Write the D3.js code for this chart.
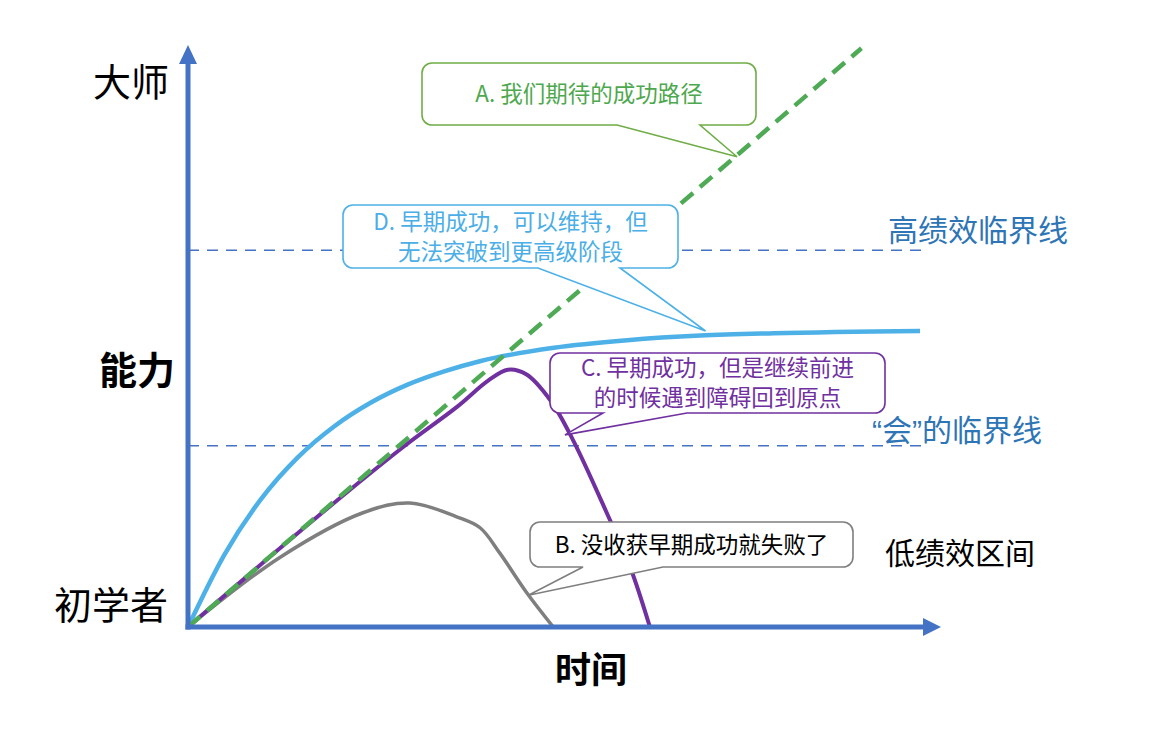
<!DOCTYPE html>
<html>
<head>
<meta charset="utf-8">
<script src="https://cdn.jsdelivr.net/npm/d3@7"></script>
<style>
  body { margin: 0; background: #fff; }
  svg { display: block; font-family: "Noto Sans CJK SC", "Noto Sans", sans-serif; }
</style>
</head>
<body>
<svg id="chart" width="1156" height="734"></svg>
<script>
// data (time, ability) in abstract units 0..10
const pathA = [[0, 0], [9.2, 10.03]]; // expected path (dashed)
const pathD = [[0, 0], [0.5, 1.26], [1, 2.22], [1.5, 2.94], [2, 3.48], [2.5, 3.89], [3, 4.2],
  [3.5, 4.43], [4, 4.61], [5, 4.84], [6, 4.97], [7, 5.05], [8, 5.09], [10, 5.13]];
const pathC = [[0, 0], [1.71, 1.85], [2.94, 3.12], [3.67, 3.81], [4.1, 4.27], [4.37, 4.46],
  [4.62, 4.38], [4.95, 3.93], [5.26, 3.24], [5.72, 1.98], [6.04, 1.04], [6.31, 0]];
const pathB = [[0, 0], [1.26, 1.21], [2.39, 1.98], [3.03, 2.15], [3.67, 1.91], [3.99, 1.72],
  [4.26, 1.28], [4.63, 0.59], [4.99, 0]];
const thresholds = [6.53, 3.14];
const thresholdLabels = [["高绩效临界线"], ["“", "会", "”", "的临界线"]];
const yLabels = ["大师", "能力", "初学者"];
const xLabel = "时间";
const zoneLabel = "低绩效区间";

const svg = d3.select("#chart");
const x = d3.scaleLinear().domain([0, 10]).range([188, 920]);
const y = d3.scaleLinear().domain([0, 10]).range([627, 50]);

const AXIS = "#4472C4";

// threshold dashed lines
svg.selectAll(".thr")
  .data(thresholds)
  .join("line")
  .attr("x1", x(0)).attr("x2", 922)
  .attr("y1", d => y(d)).attr("y2", d => y(d))
  .attr("stroke", AXIS)
  .attr("stroke-width", 1.5)
  .attr("stroke-dasharray", "11 8");

const line = d3.line().x(d => x(d[0])).y(d => y(d[1]));
const smooth = d3.line().x(d => x(d[0])).y(d => y(d[1])).curve(d3.curveMonotoneX);
const rounded = d3.line().x(d => x(d[0])).y(d => y(d[1])).curve(d3.curveCatmullRom.alpha(0.5));

// curves
svg.append("path").attr("d", rounded(pathB)).attr("fill", "none")
  .attr("stroke", "#7F7F7F").attr("stroke-width", 3.5);
svg.append("path").attr("d", rounded(pathC)).attr("fill", "none")
  .attr("stroke", "#7030A0").attr("stroke-width", 4);
svg.append("path").attr("d", smooth(pathD)).attr("fill", "none")
  .attr("stroke", "#4DB1E8").attr("stroke-width", 4.5);
svg.append("path").attr("d", line(pathA)).attr("fill", "none")
  .attr("stroke", "#4EAA55").attr("stroke-width", 4.5)
  .attr("stroke-dasharray", "16 9");

// callouts (on top of the curves)
const callouts = [
  { lines: ["A. 我们期待的成功路径"], box: [422, 63, 756, 125], base: [617, 700], tip: [7.5, 8.15],
    stroke: "#70AD47", color: "#4EA84E" },
  { lines: ["D. 早期成功，可以维持，但", "无法突破到更高级阶段"], box: [343, 205, 678, 268], base: [538, 620], tip: [7.07, 5.13],
    stroke: "#4DB1E8", color: "#4BAEE6" },
  { lines: ["C. 早期成功，但是继续前进", "的时候遇到障碍回到原点"], box: [550, 353, 885, 413], base: [603, 687], tip: [5.15, 3.33],
    stroke: "#7030A0", color: "#7030A0" },
  { lines: ["B. 没收获早期成功就失败了"], box: [530, 522, 853, 567], base: [583, 663], tip: [4.65, 0.55],
    stroke: "#7F7F7F", color: "#000000" }
];

callouts.forEach(c => {
  const [x0, y0, x1, y1] = c.box;
  const tx = x(c.tip[0]), ty = y(c.tip[1]);
  const r = 10;
  // rounded box with tail on bottom edge
  const p = d3.path();
  p.moveTo(x0 + r, y0);
  p.lineTo(x1 - r, y0);
  p.arcTo(x1, y0, x1, y0 + r, r);
  p.lineTo(x1, y1 - r);
  p.arcTo(x1, y1, x1 - r, y1, r);
  p.lineTo(c.base[1], y1);
  p.lineTo(tx, ty);
  p.lineTo(c.base[0], y1);
  p.lineTo(x0 + r, y1);
  p.arcTo(x0, y1, x0, y1 - r, r);
  p.lineTo(x0, y0 + r);
  p.arcTo(x0, y0, x0 + r, y0, r);
  p.closePath();
  svg.append("path").attr("d", p.toString())
    .attr("fill", "#fff").attr("stroke", c.stroke).attr("stroke-width", 1.6)
    .attr("stroke-linejoin", "miter");
  const cx = (x0 + x1) / 2, cy = (y0 + y1) / 2;
  const lh = 30;
  // one text element per callout, lines as tspans
  svg.append("text")
    .attr("text-anchor", "middle")
    .attr("font-size", 22.5)
    .attr("fill", c.color)
    .selectAll("tspan")
    .data(c.lines)
    .join("tspan")
    .attr("x", cx)
    .attr("y", (d, i) => cy + (i - (c.lines.length - 1) / 2) * lh)
    .attr("dy", "0.36em")
    .text(d => d);
});

// axes with arrows
svg.append("line").attr("x1", x(0)).attr("x2", x(0)).attr("y1", y(0) + 2.5).attr("y2", 60)
  .attr("stroke", AXIS).attr("stroke-width", 5);
svg.append("path").attr("d", `M179,64 L188,45 L197,64 Z`).attr("fill", AXIS);
svg.append("line").attr("x1", x(0) - 2.5).attr("x2", 926).attr("y1", y(0)).attr("y2", y(0))
  .attr("stroke", AXIS).attr("stroke-width", 5);
svg.append("path").attr("d", `M923,618 L941,627 L923,636 Z`).attr("fill", AXIS);

// axis labels
const yLabelPos = [[169, 82, "normal"], [175, 370, "bold"], [168, 605, "normal"]];
svg.selectAll(".ylab")
  .data(yLabels)
  .join("text")
  .attr("x", (d, i) => yLabelPos[i][0])
  .attr("y", (d, i) => yLabelPos[i][1])
  .attr("dy", "0.36em")
  .attr("text-anchor", "end")
  .attr("font-size", 38)
  .attr("font-weight", (d, i) => yLabelPos[i][2])
  .attr("fill", "#000")
  .text(d => d);

svg.append("text").attr("x", 591).attr("y", 670).attr("dy", "0.36em")
  .attr("text-anchor", "middle").attr("font-size", 36).attr("font-weight", "bold")
  .text(xLabel);

const thrLabelPos = [[888, 230], [872, 430]];
svg.selectAll(".thrlab")
  .data(thresholdLabels)
  .join("text")
  .attr("x", (d, i) => thrLabelPos[i][0])
  .attr("y", (d, i) => thrLabelPos[i][1])
  .attr("dy", "0.36em")
  .attr("font-size", 30)
  .attr("fill", "#2E75B6")
  .selectAll("tspan")
  .data(d => d)
  .join("tspan")
  .attr("font-family", t => (t === "“" || t === "”") ? "'Liberation Sans', 'DejaVu Sans', sans-serif" : null)
  .text(t => t);

svg.append("text").attr("x", 885).attr("y", 553).attr("dy", "0.36em")
  .attr("font-size", 30).attr("fill", "#000").text(zoneLabel);
</script>
</body>
</html>
